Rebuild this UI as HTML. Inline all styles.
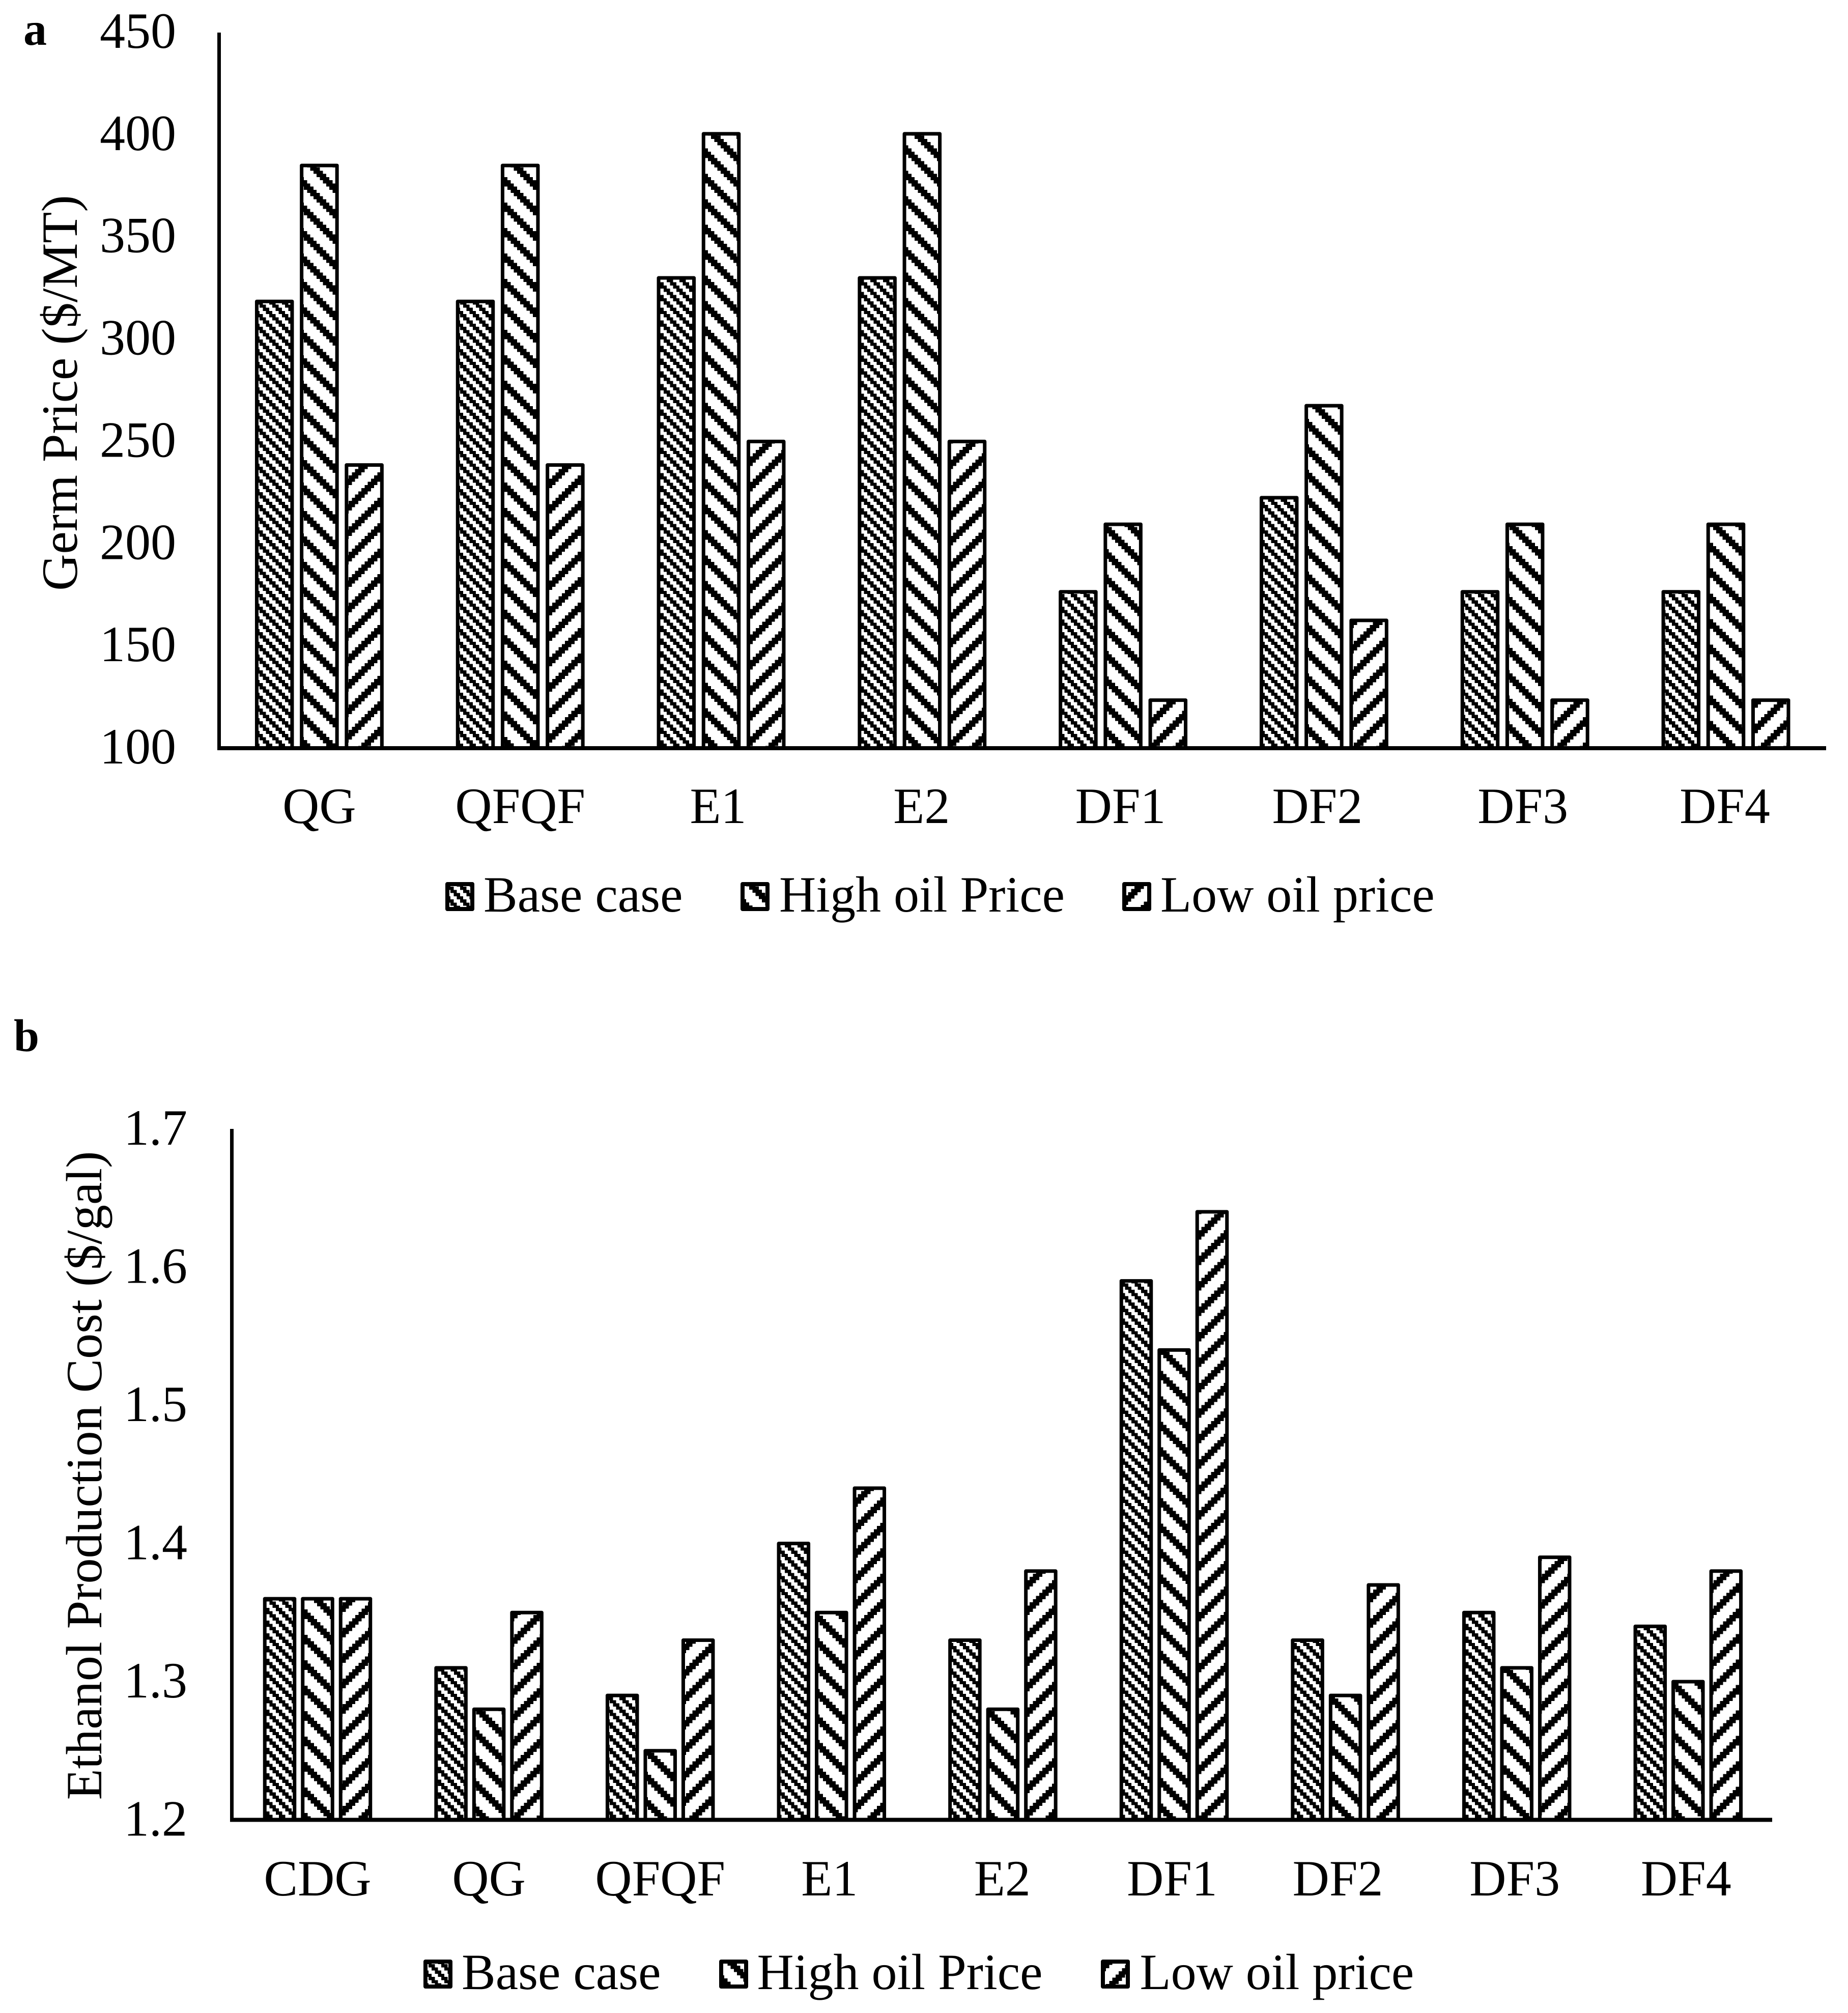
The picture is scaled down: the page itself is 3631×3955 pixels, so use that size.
<!DOCTYPE html>
<html lang="en">
<head>
<meta charset="utf-8">
<title>Germ price and ethanol production cost charts</title>
<style>
html,body{margin:0;padding:0;background:#fff;}
svg{display:block;}
text{font-family:"Liberation Serif",serif;fill:#000;text-rendering:geometricPrecision;}
</style>
</head>
<body>
<svg id="figure" xmlns="http://www.w3.org/2000/svg" width="3631" height="3955" viewBox="0 0 3631 3955">
  <rect width="3631" height="3955" fill="#fff"/>
  <defs id="defs"></defs>
  <text x="46" y="88" font-size="92" font-weight="bold">a</text>
  <text x="27" y="2065" font-size="90" font-weight="bold">b</text>
  <g id="chart-a"></g>
  <g id="chart-b"></g>
</svg>
<script>
// ---- Panel a data ----
const categoriesA = ["QG","QFQF","E1","E2","DF1","DF2","DF3","DF4"];
const baseCaseA   = [318.5,318.5,330,330,176.5,222.5,176.5,176.5];
const highOilA    = [385,385,400.5,400.5,209.5,267.5,209.5,209.5];
const lowOilA     = [238.5,238.5,250,250,123.5,162.5,123.5,123.5];
const ticksA      = ["100","150","200","250","300","350","400","450"];

// ---- Panel b data ----
const categoriesB = ["CDG","QG","QFQF","E1","E2","DF1","DF2","DF3","DF4"];
const baseCaseB   = [1.36,1.31,1.29,1.40,1.33,1.59,1.33,1.35,1.34];
const highOilB    = [1.36,1.28,1.25,1.35,1.28,1.54,1.29,1.31,1.30];
const lowOilB     = [1.36,1.35,1.33,1.44,1.38,1.64,1.37,1.39,1.38];
const ticksB      = ["1.2","1.3","1.4","1.5","1.6","1.7"];

const seriesNames = ["Base case","High oil Price","Low oil price"];

// ---- Layout (not data) ----
const NS = "http://www.w3.org/2000/svg";
const layoutA = {
  key:"a", x0:430.5, xEnd:3588, yTop:64, yBase:1470, vMin:100, vMax:450, step:394.8,
  barW:69.5, barStep:88.2, firstCenter:627.4, axisW:7, baseW:8,
  tickX:346, tickDy:30, labelY:1617,
  title:"Germ Price ($/MT)", titleX:151, titleY:772,
  labelNudge:{E1:-6,E2:-1,DF1:-5,DF2:-13,DF3:-4,DF4:-2},
  phase:[[510,1367],[597,1354],[685,1384]],
  legendY:1733, legendText:1791, swatch:[875,1455,2205], legendX:[950,1531,2280]
};
const layoutB = {
  key:"b", x0:455.5, xEnd:3482, yTop:2218, yBase:3575.5, vMin:1.2, vMax:1.7, step:336.6,
  barW:58.5, barStep:74.5, firstCenter:624, axisW:7, baseW:8,
  tickX:368, tickDy:31, labelY:3724,
  title:"Ethanol Production Cost ($/gal)", titleX:199, titleY:2899,
  labelNudge:{E1:-4,E2:-1,DF1:-4,DF2:-15,DF3:-4,DF4:-4},
  phase:[[523,3159],[598,3162],[673,3198]],
  legendY:3850, legendText:3908, swatch:[832,1413,2163], legendX:[907,1487.5,2239.5]
};

// hatch tile: block grid of 6.25 px cells, black when the diagonal index falls in the dark band
function addHatch(id, phase, period, dark, dir){
  const b = 6.25;
  const p = document.createElementNS(NS,"pattern");
  p.setAttribute("id",id);
  p.setAttribute("patternUnits","userSpaceOnUse");
  p.setAttribute("width",period*b);
  p.setAttribute("height",period*b);
  p.setAttribute("patternTransform","translate("+phase[0]+" "+phase[1]+")");
  const bg = document.createElementNS(NS,"rect");
  bg.setAttribute("width",period*b);
  bg.setAttribute("height",period*b);
  bg.setAttribute("fill","#fff");
  p.appendChild(bg);
  let d = "";
  for(let r=0;r<period;r++){
    for(let c=0;c<period;c++){
      const k = dir>0 ? r-c : r+c;
      if(((k%period)+period)%period < dark){
        d += "M"+(c*b)+" "+(r*b)+"h"+b+"v"+b+"h"+(-b)+"z";
      }
    }
  }
  const path = document.createElementNS(NS,"path");
  path.setAttribute("d",d);
  path.setAttribute("fill","#000");
  path.setAttribute("shape-rendering","crispEdges");
  p.appendChild(path);
  document.getElementById("defs").appendChild(p);
}

function txt(parent,x,y,s,anchor){
  const t = document.createElementNS(NS,"text");
  t.setAttribute("x",x);
  t.setAttribute("y",y);
  t.setAttribute("font-size","100");
  if(anchor) t.setAttribute("text-anchor",anchor);
  t.textContent = s;
  parent.appendChild(t);
  return t;
}

function line(parent,x1,y1,x2,y2,w){
  const l = document.createElementNS(NS,"line");
  l.setAttribute("x1",x1);
  l.setAttribute("y1",y1);
  l.setAttribute("x2",x2);
  l.setAttribute("y2",y2);
  l.setAttribute("stroke","#000");
  l.setAttribute("stroke-width",w);
  parent.appendChild(l);
  return l;
}

function drawChart(root,L,cats,series,ticks){
  const ids = ["base","high","low"];
  addHatch("hatch-base-"+L.key,L.phase[0],4,2,1);
  addHatch("hatch-high-"+L.key,L.phase[1],8,3,1);
  addHatch("hatch-low-"+L.key,L.phase[2],8,3,-1);

  const yScale = v => L.yBase-(v-L.vMin)*(L.yBase-L.yTop)/(L.vMax-L.vMin);
  const xCenter = i => L.firstCenter+i*L.step;

  // bars
  cats.forEach((cat,i)=>{
    series.forEach((vals,s)=>{
      const top = yScale(vals[i]);
      const cx = xCenter(i)+(s-1)*L.barStep;
      const bar = document.createElementNS(NS,"rect");
      
      
      bar.setAttribute("x",cx-L.barW/2);
      bar.setAttribute("y",top);
      bar.setAttribute("width",L.barW);
      bar.setAttribute("height",L.yBase-top);
      bar.setAttribute("fill","url(#hatch-"+ids[s]+"-"+L.key+")");
      bar.setAttribute("stroke","#000");
      bar.setAttribute("stroke-width","7");
      bar.setAttribute("stroke-linejoin","round");
      root.appendChild(bar);
    });
  });

  // axes
  const yAxis = line(root,L.x0,L.yTop,L.x0,L.yBase+3,L.axisW);
  
  
  const xAxis = line(root,L.x0-3.5,L.yBase,L.xEnd,L.yBase,L.baseW);
  
  

  // y tick labels
  ticks.forEach(tick=>{
    const t = txt(root,L.tickX,yScale(parseFloat(tick))+L.tickDy,tick,"end");
    
    
  });

  // category labels
  cats.forEach((cat,i)=>{
    const t = txt(root,xCenter(i)+(L.labelNudge[cat]||0),L.labelY,cat,"middle");
    
    
  });

  // y-axis title
  const title = txt(root,L.titleX,L.titleY,L.title,"middle");
  title.setAttribute("transform","rotate(-90 "+L.titleX+" "+L.titleY+")");
  
  

  // legend
  seriesNames.forEach((name,s)=>{
    const sw = document.createElementNS(NS,"rect");
    
    
    sw.setAttribute("x",L.swatch[s]+4);
    sw.setAttribute("y",L.legendY+4);
    sw.setAttribute("width",49);
    sw.setAttribute("height",49);
    sw.setAttribute("fill","url(#hatch-"+ids[s]+"-"+L.key+")");
    sw.setAttribute("stroke","#000");
    sw.setAttribute("stroke-width","8");
    sw.setAttribute("stroke-linejoin","round");
    root.appendChild(sw);
    const t = txt(root,L.legendX[s],L.legendText,name);
    
    
  });
}

drawChart(document.getElementById("chart-a"),layoutA,categoriesA,[baseCaseA,highOilA,lowOilA],ticksA);
drawChart(document.getElementById("chart-b"),layoutB,categoriesB,[baseCaseB,highOilB,lowOilB],ticksB);
</script>
</body>
</html>
